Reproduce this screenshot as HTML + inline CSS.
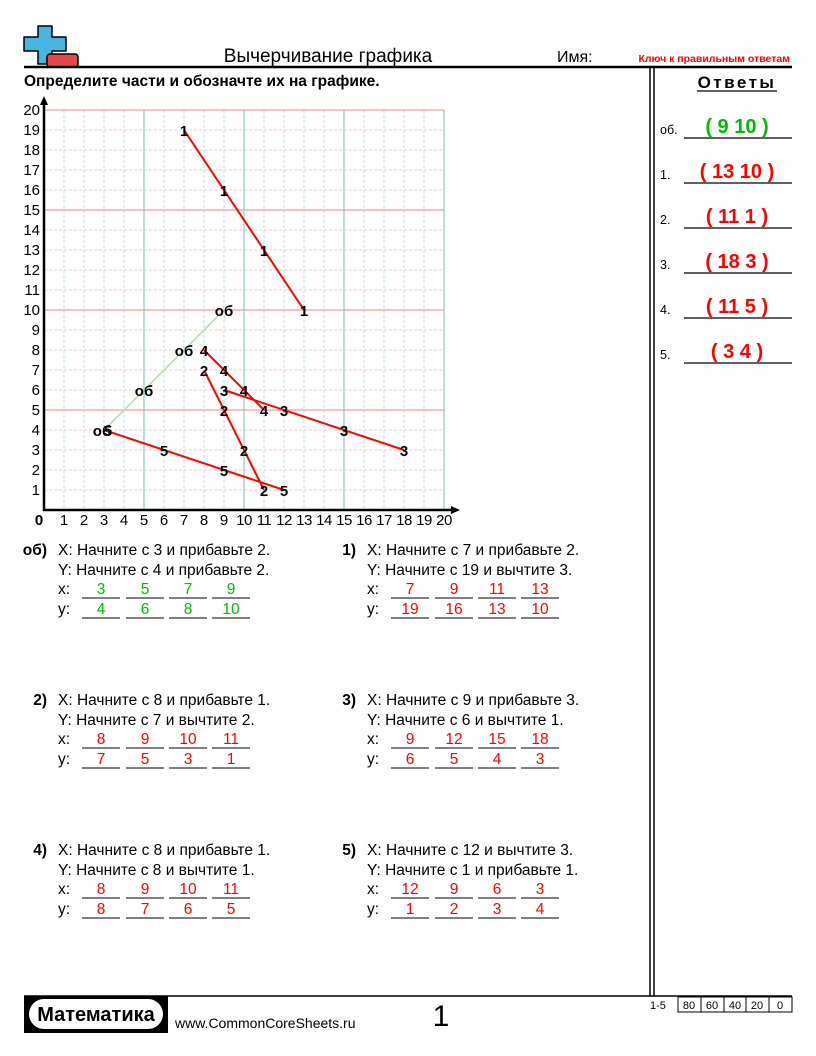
<!DOCTYPE html>
<html><head><meta charset="utf-8"><style>
html,body{margin:0;padding:0;background:#fff}
svg{display:block;font-family:"Liberation Sans",sans-serif}
</style></head><body>
<svg width="816" height="1056" viewBox="0 0 816 1056" xmlns="http://www.w3.org/2000/svg">
<!-- logo -->
<path d="M38 26 h14 v11 h14 v14 h-14 v13 h-14 v-13 h-14 v-14 h14 z" fill="#4ab4e0" stroke="#000" stroke-width="1.5" stroke-linejoin="round"/>
<rect x="47" y="54" width="31" height="13" rx="3" fill="#e84848" stroke="#000" stroke-width="1.5"/>
<text x="328" y="62" font-size="19" text-anchor="middle">Вычерчивание графика</text>
<text x="557" y="62" font-size="16">Имя:</text>
<text x="790" y="62" font-size="10.5" font-weight="bold" fill="#f00" text-anchor="end">Ключ к правильным ответам</text>
<line x1="24" y1="67" x2="792" y2="67" stroke="#000" stroke-width="2.5"/>
<line x1="650" y1="67" x2="650" y2="996" stroke="#000" stroke-width="1.5"/>
<line x1="654" y1="67" x2="654" y2="996" stroke="#000" stroke-width="1.5"/>
<text x="24" y="86" font-size="15.5" font-weight="bold">Определите части и обозначте их на графике.</text>

<!-- grid -->
<g stroke-width="1" stroke-dasharray="3,2">
<g stroke="#b8d8f0">
<line x1="64" y1="110" x2="64" y2="510"/><line x1="84" y1="110" x2="84" y2="510"/><line x1="104" y1="110" x2="104" y2="510"/><line x1="124" y1="110" x2="124" y2="510"/>
<line x1="164" y1="110" x2="164" y2="510"/><line x1="184" y1="110" x2="184" y2="510"/><line x1="204" y1="110" x2="204" y2="510"/><line x1="224" y1="110" x2="224" y2="510"/>
<line x1="264" y1="110" x2="264" y2="510"/><line x1="284" y1="110" x2="284" y2="510"/><line x1="304" y1="110" x2="304" y2="510"/><line x1="324" y1="110" x2="324" y2="510"/>
<line x1="364" y1="110" x2="364" y2="510"/><line x1="384" y1="110" x2="384" y2="510"/><line x1="404" y1="110" x2="404" y2="510"/><line x1="424" y1="110" x2="424" y2="510"/>
</g>
<g stroke="#f4c8c8">
<line x1="44" y1="130" x2="444" y2="130"/><line x1="44" y1="150" x2="444" y2="150"/><line x1="44" y1="170" x2="444" y2="170"/><line x1="44" y1="190" x2="444" y2="190"/>
<line x1="44" y1="230" x2="444" y2="230"/><line x1="44" y1="250" x2="444" y2="250"/><line x1="44" y1="270" x2="444" y2="270"/><line x1="44" y1="290" x2="444" y2="290"/>
<line x1="44" y1="330" x2="444" y2="330"/><line x1="44" y1="350" x2="444" y2="350"/><line x1="44" y1="370" x2="444" y2="370"/><line x1="44" y1="390" x2="444" y2="390"/>
<line x1="44" y1="430" x2="444" y2="430"/><line x1="44" y1="450" x2="444" y2="450"/><line x1="44" y1="470" x2="444" y2="470"/><line x1="44" y1="490" x2="444" y2="490"/>
</g>
</g>
<g stroke="#a8d4d4" stroke-width="1.5">
<line x1="144" y1="110" x2="144" y2="510"/><line x1="244" y1="110" x2="244" y2="510"/><line x1="344" y1="110" x2="344" y2="510"/><line x1="444" y1="110" x2="444" y2="510"/>
</g>
<g stroke="#e88a8a" stroke-width="1">
<line x1="44" y1="110" x2="444" y2="110"/><line x1="44" y1="210" x2="444" y2="210"/><line x1="44" y1="310" x2="444" y2="310"/><line x1="44" y1="410" x2="444" y2="410"/>
</g>
<!-- axes -->
<line x1="44" y1="511" x2="44" y2="102" stroke="#000" stroke-width="2.5"/>
<polygon points="44,96 40,105 48,105" fill="#000"/>
<line x1="43" y1="510" x2="452" y2="510" stroke="#000" stroke-width="2.5"/>
<polygon points="460,510 451,506 451,514" fill="#000"/>
<g font-size="15" text-anchor="end">
<text x="40" y="115">20</text><text x="40" y="135">19</text><text x="40" y="155">18</text><text x="40" y="175">17</text><text x="40" y="195">16</text>
<text x="40" y="215">15</text><text x="40" y="235">14</text><text x="40" y="255">13</text><text x="40" y="275">12</text><text x="40" y="295">11</text>
<text x="40" y="315">10</text><text x="40" y="335">9</text><text x="40" y="355">8</text><text x="40" y="375">7</text><text x="40" y="395">6</text>
<text x="40" y="415">5</text><text x="40" y="435">4</text><text x="40" y="455">3</text><text x="40" y="475">2</text><text x="40" y="495">1</text>
</g>
<g font-size="15" text-anchor="middle">
<text x="39" y="525" font-weight="bold">0</text>
<text x="64" y="525">1</text><text x="84" y="525">2</text><text x="104" y="525">3</text><text x="124" y="525">4</text><text x="144" y="525">5</text>
<text x="164" y="525">6</text><text x="184" y="525">7</text><text x="204" y="525">8</text><text x="224" y="525">9</text><text x="244" y="525" letter-spacing="-0.5">10</text>
<text x="264" y="525" letter-spacing="-0.5">11</text><text x="284" y="525" letter-spacing="-0.5">12</text><text x="304" y="525" letter-spacing="-0.5">13</text><text x="324" y="525" letter-spacing="-0.5">14</text><text x="344" y="525" letter-spacing="-0.5">15</text>
<text x="364" y="525" letter-spacing="-0.5">16</text><text x="384" y="525" letter-spacing="-0.5">17</text><text x="404" y="525" letter-spacing="-0.5">18</text><text x="424" y="525" letter-spacing="-0.5">19</text><text x="444" y="525" letter-spacing="-0.5">20</text>
</g>
<!-- series -->
<line x1="104" y1="430" x2="224" y2="310" stroke="#a8e0a0" stroke-width="1.5"/>
<g stroke="#f00" stroke-width="2">
<line x1="184" y1="130" x2="304" y2="310"/>
<line x1="204" y1="370" x2="264" y2="490"/>
<line x1="224" y1="390" x2="404" y2="450"/>
<line x1="204" y1="350" x2="264" y2="410"/>
<line x1="284" y1="490" x2="104" y2="430"/>
</g>
<g font-size="15" font-weight="bold" text-anchor="middle">
<text x="102" y="436">об</text><text x="144" y="396">об</text><text x="184" y="356">об</text><text x="224" y="316">об</text>
<text x="184" y="136">1</text><text x="224" y="196">1</text><text x="264" y="256">1</text><text x="304" y="316">1</text>
<text x="204" y="376">2</text><text x="224" y="416">2</text><text x="244" y="456">2</text><text x="264" y="496">2</text>
<text x="224" y="396">3</text><text x="284" y="416">3</text><text x="344" y="436">3</text><text x="404" y="456">3</text>
<text x="204" y="356">4</text><text x="224" y="376">4</text><text x="244" y="396">4</text><text x="264" y="416">4</text>
<text x="284" y="496">5</text><text x="224" y="476">5</text><text x="164" y="456">5</text><text x="108" y="436">5</text>
</g>

<!-- problems -->
<g font-size="15.5">
<text x="47" y="555" text-anchor="end" font-weight="bold">об)</text>
<text x="58" y="555">X: Начните с 3 и прибавьте 2.</text>
<text x="58" y="575">Y: Начните с 4 и прибавьте 2.</text>
<text x="58" y="594">x:</text><text x="58" y="614">y:</text>
<g fill="#0b0" text-anchor="middle"><text x="101" y="594">3</text><text x="145" y="594">5</text><text x="188" y="594">7</text><text x="231" y="594">9</text>
<text x="101" y="614">4</text><text x="145" y="614">6</text><text x="188" y="614">8</text><text x="231" y="614">10</text></g>
<text x="356" y="555" text-anchor="end" font-weight="bold">1)</text>
<text x="367" y="555">X: Начните с 7 и прибавьте 2.</text>
<text x="367" y="575">Y: Начните с 19 и вычтите 3.</text>
<text x="367" y="594">x:</text><text x="367" y="614">y:</text>
<g fill="#f00" text-anchor="middle"><text x="410" y="594">7</text><text x="454" y="594">9</text><text x="497" y="594">11</text><text x="540" y="594">13</text>
<text x="410" y="614">19</text><text x="454" y="614">16</text><text x="497" y="614">13</text><text x="540" y="614">10</text></g>
<text x="47" y="705" text-anchor="end" font-weight="bold">2)</text>
<text x="58" y="705">X: Начните с 8 и прибавьте 1.</text>
<text x="58" y="725">Y: Начните с 7 и вычтите 2.</text>
<text x="58" y="744">x:</text><text x="58" y="764">y:</text>
<g fill="#f00" text-anchor="middle"><text x="101" y="744">8</text><text x="145" y="744">9</text><text x="188" y="744">10</text><text x="231" y="744">11</text>
<text x="101" y="764">7</text><text x="145" y="764">5</text><text x="188" y="764">3</text><text x="231" y="764">1</text></g>
<text x="356" y="705" text-anchor="end" font-weight="bold">3)</text>
<text x="367" y="705">X: Начните с 9 и прибавьте 3.</text>
<text x="367" y="725">Y: Начните с 6 и вычтите 1.</text>
<text x="367" y="744">x:</text><text x="367" y="764">y:</text>
<g fill="#f00" text-anchor="middle"><text x="410" y="744">9</text><text x="454" y="744">12</text><text x="497" y="744">15</text><text x="540" y="744">18</text>
<text x="410" y="764">6</text><text x="454" y="764">5</text><text x="497" y="764">4</text><text x="540" y="764">3</text></g>
<text x="47" y="855" text-anchor="end" font-weight="bold">4)</text>
<text x="58" y="855">X: Начните с 8 и прибавьте 1.</text>
<text x="58" y="875">Y: Начните с 8 и вычтите 1.</text>
<text x="58" y="894">x:</text><text x="58" y="914">y:</text>
<g fill="#f00" text-anchor="middle"><text x="101" y="894">8</text><text x="145" y="894">9</text><text x="188" y="894">10</text><text x="231" y="894">11</text>
<text x="101" y="914">8</text><text x="145" y="914">7</text><text x="188" y="914">6</text><text x="231" y="914">5</text></g>
<text x="356" y="855" text-anchor="end" font-weight="bold">5)</text>
<text x="367" y="855">X: Начните с 12 и вычтите 3.</text>
<text x="367" y="875">Y: Начните с 1 и прибавьте 1.</text>
<text x="367" y="894">x:</text><text x="367" y="914">y:</text>
<g fill="#f00" text-anchor="middle"><text x="410" y="894">12</text><text x="454" y="894">9</text><text x="497" y="894">6</text><text x="540" y="894">3</text>
<text x="410" y="914">1</text><text x="454" y="914">2</text><text x="497" y="914">3</text><text x="540" y="914">4</text></g>
</g>
<g stroke="#000" stroke-width="1">
<path d="M82 598h38M126 598h38M169 598h38M212 598h38M82 618h38M126 618h38M169 618h38M212 618h38"/>
<path d="M391 598h38M435 598h38M478 598h38M521 598h38M391 618h38M435 618h38M478 618h38M521 618h38"/>
<path d="M82 748h38M126 748h38M169 748h38M212 748h38M82 768h38M126 768h38M169 768h38M212 768h38"/>
<path d="M391 748h38M435 748h38M478 748h38M521 748h38M391 768h38M435 768h38M478 768h38M521 768h38"/>
<path d="M82 898h38M126 898h38M169 898h38M212 898h38M82 918h38M126 918h38M169 918h38M212 918h38"/>
<path d="M391 898h38M435 898h38M478 898h38M521 898h38M391 918h38M435 918h38M478 918h38M521 918h38"/>
</g>

<!-- answers -->
<text x="737" y="88" font-size="17" font-weight="bold" text-anchor="middle" letter-spacing="2.5">Ответы</text>
<line x1="697" y1="91" x2="777" y2="91" stroke="#000" stroke-width="1.2"/>
<g font-size="12.5">
<text x="660" y="134">об.</text><text x="660" y="179">1.</text><text x="660" y="224">2.</text><text x="660" y="269">3.</text><text x="660" y="314">4.</text><text x="660" y="359">5.</text>
</g>
<g stroke="#000" stroke-width="1.2"><path d="M684 138h108M684 183h108M684 228h108M684 273h108M684 318h108M684 363h108"/></g>
<g font-size="20" font-weight="bold" text-anchor="middle" fill="#f00">
<text x="737" y="133" fill="#0b0">( 9 10 )</text>
<text x="737" y="178">( 13 10 )</text>
<text x="737" y="223">( 11 1 )</text>
<text x="737" y="268">( 18 3 )</text>
<text x="737" y="313">( 11 5 )</text>
<text x="737" y="358">( 3 4 )</text>
</g>

<!-- footer -->
<line x1="24" y1="996" x2="792" y2="996" stroke="#000" stroke-width="1.5"/>
<rect x="24" y="996" width="144" height="37" fill="#000"/>
<rect x="29" y="999" width="134" height="30" rx="15" fill="#fff"/>
<text x="96" y="1021" font-size="20" font-weight="bold" text-anchor="middle">Математика</text>
<text x="175" y="1028" font-size="14">www.CommonCoreSheets.ru</text>
<text x="441" y="1026" font-size="30" text-anchor="middle">1</text>
<text x="650" y="1009" font-size="11">1-5</text>
<g fill="none" stroke="#000" stroke-width="1"><rect x="678" y="997" width="114" height="15"/><path d="M701 997v15M724 997v15M746 997v15M769 997v15"/></g>
<g font-size="11" text-anchor="middle"><text x="689" y="1009">80</text><text x="712" y="1009">60</text><text x="735" y="1009">40</text><text x="757" y="1009">20</text><text x="780" y="1009">0</text></g>
</svg>
</body></html>
